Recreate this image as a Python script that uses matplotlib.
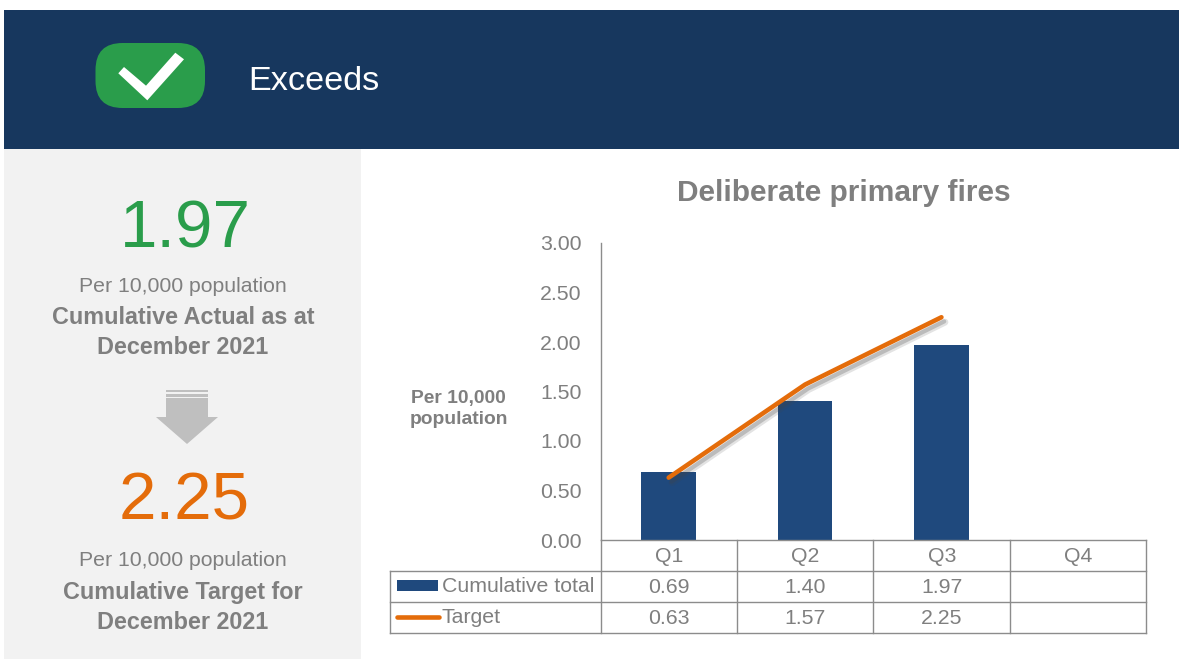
import matplotlib
matplotlib.use("Agg")
import matplotlib.pyplot as plt
import matplotlib.patheffects as pe
from matplotlib.patches import FancyBboxPatch, Polygon, Rectangle

plt.rcParams['font.family'] = ['Liberation Sans', 'DejaVu Sans']

quarters = ['Q1', 'Q2', 'Q3', 'Q4']
cumulative = [0.69, 1.40, 1.97, None]
target = [0.63, 1.57, 2.25, None]
y_ticks = [0, 0.5, 1.0, 1.5, 2.0, 2.5, 3.0]
actual_label = '1.97'
target_label = '2.25'
NAVY = '#17375E'; BAR = '#1F497D'; ORANGE = '#E46C0A'; GREEN = '#2A9D4B'
GREY = '#7F7F7F'; RULE = '#8C8C8C'; PANEL = '#F2F2F2'; ARROW = '#BFBFBF'

W, H = 1179, 659
fig = plt.figure(figsize=(W / 100, H / 100), dpi=100, facecolor='white')

# page furniture, in pixel coordinates
bg = fig.add_axes([0, 0, 1, 1], zorder=0)
bg.set_xlim(0, W); bg.set_ylim(H, 0); bg.axis('off')
bg.add_patch(Rectangle((4, 10), W - 4, 139, fc=NAVY, ec='none'))
bg.add_patch(Rectangle((4, 149), 357, 510, fc=PANEL, ec='none'))
bg.add_patch(FancyBboxPatch((95.5 + 27, 43 + 27), 109.5 - 54, 65 - 54, boxstyle='round,pad=27',
                            fc=GREEN, ec='none'))
bg.add_patch(Polygon([(118.3, 73.3), (124, 67), (146, 85.7), (175.3, 52.7), (184, 59.3), (147.3, 100.3)],
                     fc='white', ec='none'))
bg.text(248.5, 81, 'Exceeds', color='white', fontsize=24.7, va='center', ha='left')

# left panel
cx = 183
bg.text(cx + 2.5, 230, actual_label, color=GREEN, fontsize=48.5, ha='center', va='center')
bg.text(cx, 287, 'Per 10,000 population', color=GREY, fontsize=15.3, ha='center', va='center')
bg.text(cx, 318, 'Cumulative Actual as at', color=GREY, fontsize=16.8, fontweight='bold', ha='center', va='center')
bg.text(cx, 348, 'December 2021', color=GREY, fontsize=16.8, fontweight='bold', ha='center', va='center')
bg.add_patch(Rectangle((166, 390), 42, 1.8, fc=ARROW, ec='none'))
bg.add_patch(Rectangle((166, 393.5), 42, 3, fc=ARROW, ec='none'))
bg.add_patch(Polygon([(166, 398), (208, 398), (208, 417), (218, 417), (187, 444), (156, 417), (166, 417)],
                     fc=ARROW, ec='none'))
bg.text(cx + 1, 503, target_label, color=ORANGE, fontsize=48.5, ha='center', va='center')
bg.text(cx, 561, 'Per 10,000 population', color=GREY, fontsize=15.3, ha='center', va='center')
bg.text(cx, 593, 'Cumulative Target for', color=GREY, fontsize=16.8, fontweight='bold', ha='center', va='center')
bg.text(cx, 622.5, 'December 2021', color=GREY, fontsize=16.8, fontweight='bold', ha='center', va='center')

# chart
x0, x1, ytop, ybot = 600.5, 1146, 243, 540
ax = fig.add_axes([x0 / W, 1 - ybot / H, (x1 - x0) / W, (ybot - ytop) / H], zorder=2)
ax.patch.set_alpha(0)
xs = list(range(len(quarters)))
ax.bar(xs[:3], cumulative[:3], width=0.4, color=BAR, zorder=2)
ax.plot(xs[:3], target[:3], color=ORANGE, lw=3.3, solid_capstyle='round', solid_joinstyle='round', zorder=3,
        path_effects=[pe.SimpleLineShadow(offset=(2.5, -3.5), shadow_color='#444444', alpha=0.15, linewidth=5),
                      pe.SimpleLineShadow(offset=(2, -3), shadow_color='#444444', alpha=0.25, linewidth=3),
                      pe.Normal()])
ax.set_xlim(-0.5, 3.5); ax.set_ylim(0, 3)
ax.set_yticks(y_ticks)
ax.set_yticklabels([f'{v:.2f}' for v in y_ticks], color=GREY, fontsize=15.3)
ax.tick_params(axis='y', length=0, pad=13.5)
ax.set_xticks([])
for s in ('top', 'right'):
    ax.spines[s].set_visible(False)
for s in ('left', 'bottom'):
    ax.spines[s].set_color(RULE); ax.spines[s].set_linewidth(1.0)

bg.text(843.5, 193, 'Deliberate primary fires', color=GREY, fontsize=21.5, fontweight='bold', ha='center', va='center')
bg.text(458.5, 409, 'Per 10,000\npopulation', color=GREY, fontsize=13.9, fontweight='bold', ha='center', va='center',
        linespacing=1.27)

# data table under the axis
cols = [600.5, 736.5, 873, 1009.5, 1146]
rows = [540, 571, 602, 633]
lw = 1.0
for x in cols:
    bg.plot([x, x], [rows[0], rows[3]], color=RULE, lw=lw, zorder=1)
for y in rows[1:]:
    bg.plot([389.5, cols[-1]], [y, y], color=RULE, lw=lw, zorder=1)
bg.plot([389.5, 389.5], [rows[1], rows[3]], color=RULE, lw=lw, zorder=1)
for i, q in enumerate(quarters):
    c = (cols[i] + cols[i + 1]) / 2 + 0.5
    bg.text(c, 556.5, q, color=GREY, fontsize=15.3, ha='center', va='center')
    if cumulative[i] is not None:
        bg.text(c, 587.5, f'{cumulative[i]:.2f}', color=GREY, fontsize=15.3, ha='center', va='center')
    if target[i] is not None:
        bg.text(c, 618.5, f'{target[i]:.2f}', color=GREY, fontsize=15.3, ha='center', va='center')
bg.add_patch(Rectangle((397, 580), 41, 11, fc=BAR, ec='none'))
bg.plot([397, 438.5], [616.5, 616.5], color=ORANGE, lw=3.3, solid_capstyle='round')
bg.text(442, 586.5, 'Cumulative total', color=GREY, fontsize=15.3, ha='left', va='center')
bg.text(442, 617.5, 'Target', color=GREY, fontsize=15.3, ha='left', va='center')

bg.set_xlim(0, W); bg.set_ylim(H, 0)
fig.savefig('out.png', dpi=100)
